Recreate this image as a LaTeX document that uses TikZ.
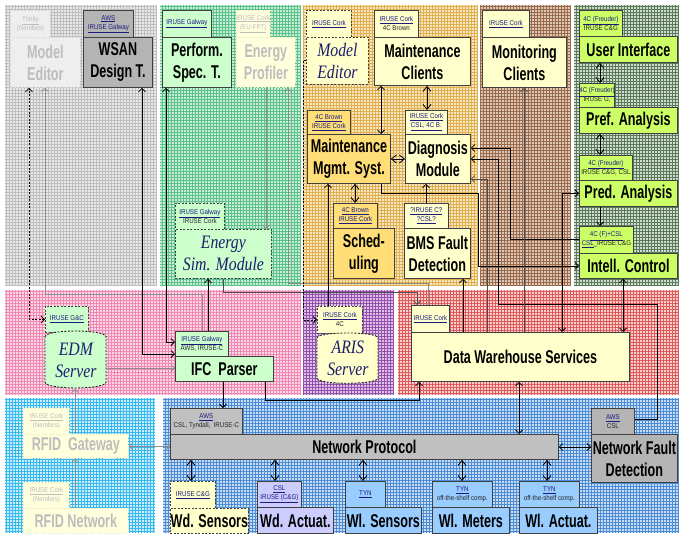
\documentclass[tikz,border=0pt]{standalone}
\usepackage{fontspec}
\setmainfont{Liberation Sans}
\newfontfamily\condf[FakeStretch=0.68]{Liberation Sans}
\newfontfamily\smallcf[FakeStretch=0.88]{Liberation Sans}
\newfontfamily\serf[FakeStretch=0.83]{Liberation Serif}
\usetikzlibrary{arrows.meta,calc}
\definecolor{bordc}{HTML}{404040}
\definecolor{linkc}{HTML}{1A1A80}
\definecolor{navyt}{HTML}{1C1C6E}
\definecolor{cyell}{HTML}{FFFFCC}
\definecolor{cgold}{HTML}{FFDD77}
\definecolor{cmint}{HTML}{CCFFCC}
\definecolor{clime}{HTML}{CCFF66}
\definecolor{cgray}{HTML}{B4B4B4}
\definecolor{cgrayb}{HTML}{C0C0C0}
\definecolor{clav}{HTML}{CCCCFF}
\definecolor{csky}{HTML}{99CCFF}
\definecolor{fadet}{HTML}{BDBDBD}
\definecolor{fgray}{HTML}{EEEEEE}
\definecolor{fgrayb}{HTML}{DADADA}
\definecolor{fyell}{HTML}{FFFFDD}
\definecolor{fyellb}{HTML}{EEEEC4}
\definecolor{pgrayA}{HTML}{EAEAEA}\definecolor{pgrayB}{HTML}{BEBEBE}
\definecolor{pgrnA}{HTML}{C8EED8}\definecolor{pgrnB}{HTML}{5CC08A}
\definecolor{porA}{HTML}{F8E6C0}\definecolor{porB}{HTML}{E0B050}
\definecolor{pbrA}{HTML}{DCC8B8}\definecolor{pbrB}{HTML}{9A6A4A}
\definecolor{pdgA}{HTML}{D0DCD0}\definecolor{pdgB}{HTML}{5A7A5A}
\definecolor{ppkA}{HTML}{FCD8E6}\definecolor{ppkB}{HTML}{F088B4}
\definecolor{ppuA}{HTML}{DCC4E4}\definecolor{ppuB}{HTML}{9450AC}
\definecolor{prdA}{HTML}{F8D0D0}\definecolor{prdB}{HTML}{E05A5A}
\definecolor{pcyA}{HTML}{CDEFFC}\definecolor{pcyB}{HTML}{38B8EC}
\definecolor{pblA}{HTML}{C8DCF4}\definecolor{pblB}{HTML}{4C8CD4}
\newcommand\lk[1]{\textcolor{linkc}{\underline{#1}}}
\newcommand\panel[6]{\fill[#5] (#1,#2) rectangle (#3,#4);\draw[#6,line width=0.45pt] (#1,#2) grid[step=3pt] (#3,#4);}
\begin{document}
\begin{tikzpicture}[x=1pt,y=-1pt,
  >={Straight Barb[length=3.5pt,width=7pt]},
  mainbox/.style={draw=bordc, line width=0.8pt, inner sep=0pt, anchor=north west, align=center, text=black,
    font=\condf\bfseries\fontsize{18.5}{22}\selectfont},
  serbox/.style={mainbox, text=navyt, font=\serf\itshape\fontsize{19}{22}\selectfont},
  lab/.style={draw=bordc, line width=0.8pt, inner sep=0pt, anchor=north west, align=center, text=black!85,
    font=\smallcf\fontsize{7}{9}\selectfont},
  dashb/.style={dash pattern=on 2pt off 1.5pt},
  fadedg/.style={fill=fgray, draw=fgrayb, dashb, text=fadet},
  fadedy/.style={fill=fyell, draw=fyellb, dashb, text=fadet},
  con/.style={line width=0.8pt, draw=black},
  gcon/.style={line width=0.8pt, draw=black!45},
  dcon/.style={line width=0.8pt, draw=black!70},
  dbl/.style={con, {Straight Barb[length=5pt,width=8pt]}-{Straight Barb[length=5pt,width=8pt]}}
]
\useasboundingbox (0,0) rectangle (681,535);
\fill[white] (0,0) rectangle (681,535);
% ---------- panels
\panel{5}{5}{157}{286}{pgrayA}{pgrayB}
\panel{160}{5}{300}{286}{pgrnA}{pgrnB}
\panel{303}{5}{477}{286}{porA}{porB}
\panel{480}{5}{571}{286}{pbrA}{pbrB}
\panel{574}{5}{679}{286}{pdgA}{pdgB}
\panel{5}{290}{300}{395}{ppkA}{ppkB}
\panel{303}{290}{393}{395}{ppuA}{ppuB}
\panel{398}{290}{679}{395}{prdA}{prdB}
\panel{5}{398}{155}{533}{pcyA}{pcyB}
\panel{163}{398}{679}{533}{pblA}{pblB}
% ---------- top row
\node[lab, fadedg, minimum width=40pt, minimum height=27pt] (trinL) at (10,10) {\underline{Trinity}\\(Nembes)};
\node[mainbox, fadedg, minimum width=70pt, minimum height=50pt] (medit) at (10,37) {Model\\Editor};
\node[lab, fill=cgray, minimum width=50pt, minimum height=27pt] (wsanL) at (83,10) {\lk{AWS}\\\lk{IRUSE Galway}};
\node[mainbox, fill=cgray, minimum width=69pt, minimum height=50pt] (wsan) at (83,37) {WSAN\\Design T.};
\node[lab, fill=cmint, minimum width=49pt, minimum height=27pt] (perfL) at (162,10) {\lk{IRUSE Galway}};
\node[mainbox, fill=cmint, minimum width=69pt, minimum height=50pt] (perf) at (162,37) {Perform.\\Spec. T.};
\node[lab, fadedy, minimum width=33pt, minimum height=27pt] (epL) at (236,10) {\underline{IRUSE Cork}\\\underline{(EU-FP7)}};
\node[mainbox, fadedy, minimum width=59pt, minimum height=50pt] (ep) at (236,37) {Energy\\Profiler};
\node[lab, fill=cyell, dashb, minimum width=45pt, minimum height=27pt] (me2L) at (306,10) {\lk{IRUSE Cork}};
\node[serbox, fill=cyell, dashb, minimum width=62pt, minimum height=47pt] (me2) at (306,37) {Model\\Editor};
\node[lab, fill=cyell, minimum width=44pt, minimum height=27pt] (mcL) at (374,10) {\lk{IRUSE Cork}\\4C Brown};
\node[mainbox, fill=cyell, minimum width=96pt, minimum height=48pt] (mc) at (374,37) {Maintenance\\Clients};
\node[lab, fill=cyell, minimum width=47pt, minimum height=27pt] (mocL) at (482,10) {\lk{IRUSE Cork}};
\node[mainbox, fill=cyell, minimum width=84pt, minimum height=50pt] (moc) at (482,37) {Monitoring\\Clients};
\node[lab, fill=clime, minimum width=43pt, minimum height=26pt] (uiL) at (579,10) {\lk{4C (Freuder)}\\IRUSE C\&G};
\node[mainbox, fill=clime, minimum width=98pt, minimum height=26pt] (ui) at (579,36) {User Interface};
% ---------- middle of top row
\node[lab, fill=cgold, minimum width=43pt, minimum height=24pt] (mmsL) at (307,110) {\lk{4C Brown}\\\lk{IRUSE Cork}};
\node[mainbox, fill=cgold, minimum width=83pt, minimum height=49pt] (mms) at (307,134) {Maintenance\\Mgmt. Syst.};
\node[lab, fill=cyell, minimum width=42pt, minimum height=24pt] (dmL) at (405,110) {\lk{IRUSE Cork}\\\lk{CSL, 4C B.}};
\node[mainbox, fill=cyell, minimum width=65pt, minimum height=49pt] (dm) at (405,134) {Diagnosis\\Module};
\node[lab, fill=cgold, minimum width=44pt, minimum height=25pt] (schL) at (333,203) {\lk{4C Brown}\\\lk{IRUSE Cork}};
\node[mainbox, fill=cgold, minimum width=61pt, minimum height=50pt] (sch) at (333,228) {Sched-\\uling};
\node[lab, fill=cyell, minimum width=44pt, minimum height=25pt] (bmsL) at (404,203) {\lk{?IRUSE C?}\\\lk{?CSL?}};
\node[mainbox, fill=cyell, minimum width=66pt, minimum height=50pt] (bms) at (404,228) {BMS Fault\\Detection};
\node[lab, fill=cmint, dashb, minimum width=49pt, minimum height=26pt] (esL) at (175,203) {\lk{IRUSE Galway}\\IRUSE Cork};
\node[serbox, fill=cmint, dashb, minimum width=96pt, minimum height=49pt] (es) at (175,229) {Energy\\Sim. Module};
\node[lab, fill=clime, minimum width=34pt, minimum height=24pt] (paL) at (579,83) {\lk{4C (Freuder)}\\IRUSE G,};
\node[mainbox, fill=clime, minimum width=98pt, minimum height=26pt] (pa) at (579,107) {Pref. Analysis};
\node[lab, fill=clime, minimum width=53pt, minimum height=25pt] (pdL) at (579,155) {\lk{4C (Freuder)}\\IRUSE C\&G, CSL};
\node[mainbox, fill=clime, minimum width=98pt, minimum height=26pt] (pd) at (579,180) {Pred. Analysis};
\node[lab, fill=clime, minimum width=54pt, minimum height=27pt] (icL) at (579,226) {\lk{4C (F)+CSL}\\\lk{CSL}\_IRUSE C\&G};
\node[mainbox, fill=clime, minimum width=98pt, minimum height=25pt] (ic) at (579,253) {Intell. Control};
% ---------- middle row
\node[lab, fill=cmint, dashb, minimum width=43pt, minimum height=26pt] (edmL) at (45,306) {\lk{IRUSE G\&C}};
\filldraw[fill=cmint, draw=black!85, line width=0.9pt, dashb] (45,337) .. controls (45,329) and (106,329) .. (106,337) -- (106,382) .. controls (106,390) and (45,390) .. (45,382) -- cycle;
\node[serbox, draw=none, minimum width=61pt, minimum height=57pt] (edm) at (45,331) {EDM\\Server};
\node[lab, fill=cmint, minimum width=53pt, minimum height=25pt] (ifcL) at (175,331) {\lk{IRUSE Galway}\\AWS, IRUSE-C};
\node[mainbox, fill=cmint, minimum width=98pt, minimum height=25pt] (ifc) at (175,356) {IFC\ \ Parser};
\node[lab, fill=cyell, dashb, minimum width=45pt, minimum height=27pt] (arisL) at (317,306) {\lk{IRUSE Cork}\\4C};
\filldraw[fill=cyell, draw=black!85, line width=0.9pt, dashb] (317,338) .. controls (317,331.3) and (378,331.3) .. (378,338) -- (378,378) .. controls (378,385) and (317,385) .. (317,378) -- cycle;
\node[serbox, draw=none, minimum width=61pt, minimum height=50pt] (aris) at (317,333) {ARIS\\Server};
\node[lab, fill=cyell, minimum width=38pt, minimum height=27pt] (dwL) at (411,305) {\lk{IRUSE Cork}};
\node[mainbox, fill=cyell, minimum width=218pt, minimum height=49pt] (dw) at (411,332) {Data Warehouse Services};
% ---------- bottom row
\node[lab, fadedy, minimum width=46pt, minimum height=26pt] (rgL) at (23,408) {\underline{IRUSE Cork}\\(Nembes)};
\node[mainbox, fadedy, minimum width=105pt, minimum height=24pt] (rg) at (23,434) {RFID\ \ Gateway};
\node[lab, fadedy, minimum width=46pt, minimum height=26pt] (rnL) at (23,482) {\underline{IRUSE Cork}\\(Nembes)};
\node[mainbox, fadedy, minimum width=105pt, minimum height=25pt] (rn) at (23,508) {RFID Network};
\node[lab, fill=cgrayb, minimum width=72pt, minimum height=26pt] (npL) at (170,408) {\lk{AWS}\\CSL, Tyndall,\ \ IRUSE-C};
\node[mainbox, fill=cgrayb, minimum width=388pt, minimum height=25pt] (np) at (170,434) {Network Protocol};
\node[lab, fill=cgray, minimum width=43pt, minimum height=26pt] (nfdL) at (591,408) {\lk{AWS}\\CSL};
\node[mainbox, fill=cgray, minimum width=86pt, minimum height=48pt] (nfd) at (591,434) {Network Fault\\Detection};
\node[lab, fill=cyell, dashb, minimum width=45pt, minimum height=27pt] (wdsL) at (170,481) {\lk{IRUSE C\&G}};
\node[mainbox, fill=cyell, dashb, minimum width=78pt, minimum height=25pt] (wds) at (170,508) {Wd. Sensors};
\node[lab, fill=clav, minimum width=44pt, minimum height=26pt] (wdaL) at (257,481) {\lk{CSL}\\\lk{IRUSE (C\&G)}};
\node[mainbox, fill=clav, minimum width=76pt, minimum height=26pt] (wda) at (257,507) {Wd. Actuat.};
\node[lab, fill=csky, minimum width=40pt, minimum height=26pt] (wlsL) at (345,481) {\lk{TYN}};
\node[mainbox, fill=csky, minimum width=76pt, minimum height=26pt] (wls) at (345,507) {Wl. Sensors};
\node[lab, fill=csky, minimum width=60pt, minimum height=26pt] (wlmL) at (432,481) {\lk{TYN}\\off-the-shelf comp.};
\node[mainbox, fill=csky, minimum width=77pt, minimum height=26pt] (wlm) at (432,507) {Wl. Meters};
\node[lab, fill=csky, minimum width=60pt, minimum height=26pt] (wlaL) at (519,481) {\lk{TYN}\\off-the-shelf comp.};
\node[mainbox, fill=csky, minimum width=78pt, minimum height=26pt] (wla) at (519,507) {Wl. Actuat.};
% ---------- connectors
\draw[con,dashb,<->] (edmL.west) -| (29,0 |- medit.south);
\draw[gcon,->] (202,0 |- ifcL.north) |- (45,294) -- (45,0 |- medit.south);
\draw[con,<->] (142,0 |- wsan.south) |- (ifcL.west |- 0,354);
\draw[con,<->] (166,0 |- perf.south) |- (ifcL.west |- 0,342);
\draw[con,->] (208,0 |- ifcL.north) -- (208,0 |- es.south);
\draw[dcon,->] (223,0 |- es.south) |- (417,292) -- (417,0 |- dwL.north);
\draw[gcon,->] (428,0 |- dwL.north) |- (288,283) -- (288,0 |- ep.south);
\draw[gcon,->] (266,0 |- ep.south) -- (266,0 |- es.north);
\draw[con,dashb,->] (me2.west) -| (303,0 |- arisL.west) -- (arisL.west);
\draw[con,<->] (381,0 |- mc.south) -- (381,0 |- mms.north);
\draw[dbl] (427,0 |- mc.south) -- (427,0 |- dmL.north);
\draw[dbl] (mms.east |- 0,159) -- (dm.west |- 0,159);
\draw[dbl] (355,0 |- mms.south) -- (355,0 |- schL.north);
\draw[con,->] (426,0 |- bmsL.north) -- (426,0 |- dm.south);
\draw[con,->] (328,0 |- arisL.north) -- (328,0 |- mms.south);
\draw[con,->] (381,0 |- mms.south) |- (478,193) |- (ic.west);
\draw[con,->] (icL.west |- 0,239) -| (510,148) -- (dm.east |- 0,148);
\draw[con,->] (nfdL.east |- 0,419) -| (657,304) -| (498,159) -- (dm.east |- 0,159);
\draw[dcon,->] (487,0 |- dw.north) |- (dm.east |- 0,179);
\draw[con,->] (463,0 |- dw.north) -- (463,0 |- bms.south);
\draw[dcon,->] (524,0 |- dw.north) -- (524,0 |- moc.south);
\draw[con,<->] (562,0 |- dw.north) |- (pd.west);
\draw[con,<->] (623,0 |- dw.north) -- (623,0 |- ic.south);
\draw[dbl] (600,0 |- ui.south) -- (600,0 |- paL.north);
\draw[dbl] (600,0 |- pa.south) -- (600,0 |- pdL.north);
\draw[con,->] (600,0 |- pd.south) -- (600,0 |- icL.north);
\draw[con,->] (265,0 |- ifc.south) |- (419,400) -- (419,0 |- dw.south);
\draw[con,->] (223,0 |- ifc.south) -- (223,0 |- npL.north);
\draw[con,<->] (519,0 |- dw.south) -- (519,0 |- np.north);
\draw[con,<->] (np.east |- 0,447) -- (nfd.west |- 0,447);
\draw[dbl] (191,0 |- np.south) -- (191,0 |- wdsL.north);
\draw[dbl] (275,0 |- np.south) -- (275,0 |- wdaL.north);
\draw[dbl] (363,0 |- np.south) -- (363,0 |- wlsL.north);
\draw[dbl] (462,0 |- np.south) -- (462,0 |- wlmL.north);
\draw[dbl] (547,0 |- np.south) -- (547,0 |- wlaL.north);
\draw[gcon,<->] (rg.east) -- (np.west |- rg.east);
\draw[gcon,->] (75,0 |- rn.north) -- (75,0 |- rg.south);
\draw[gcon,->] (75,0 |- rg.north) -- (75,0 |- edm.south);
\draw[gcon,->] (edm.east |- 0,368) -- (ifc.west |- 0,368);
\end{tikzpicture}
\end{document}
